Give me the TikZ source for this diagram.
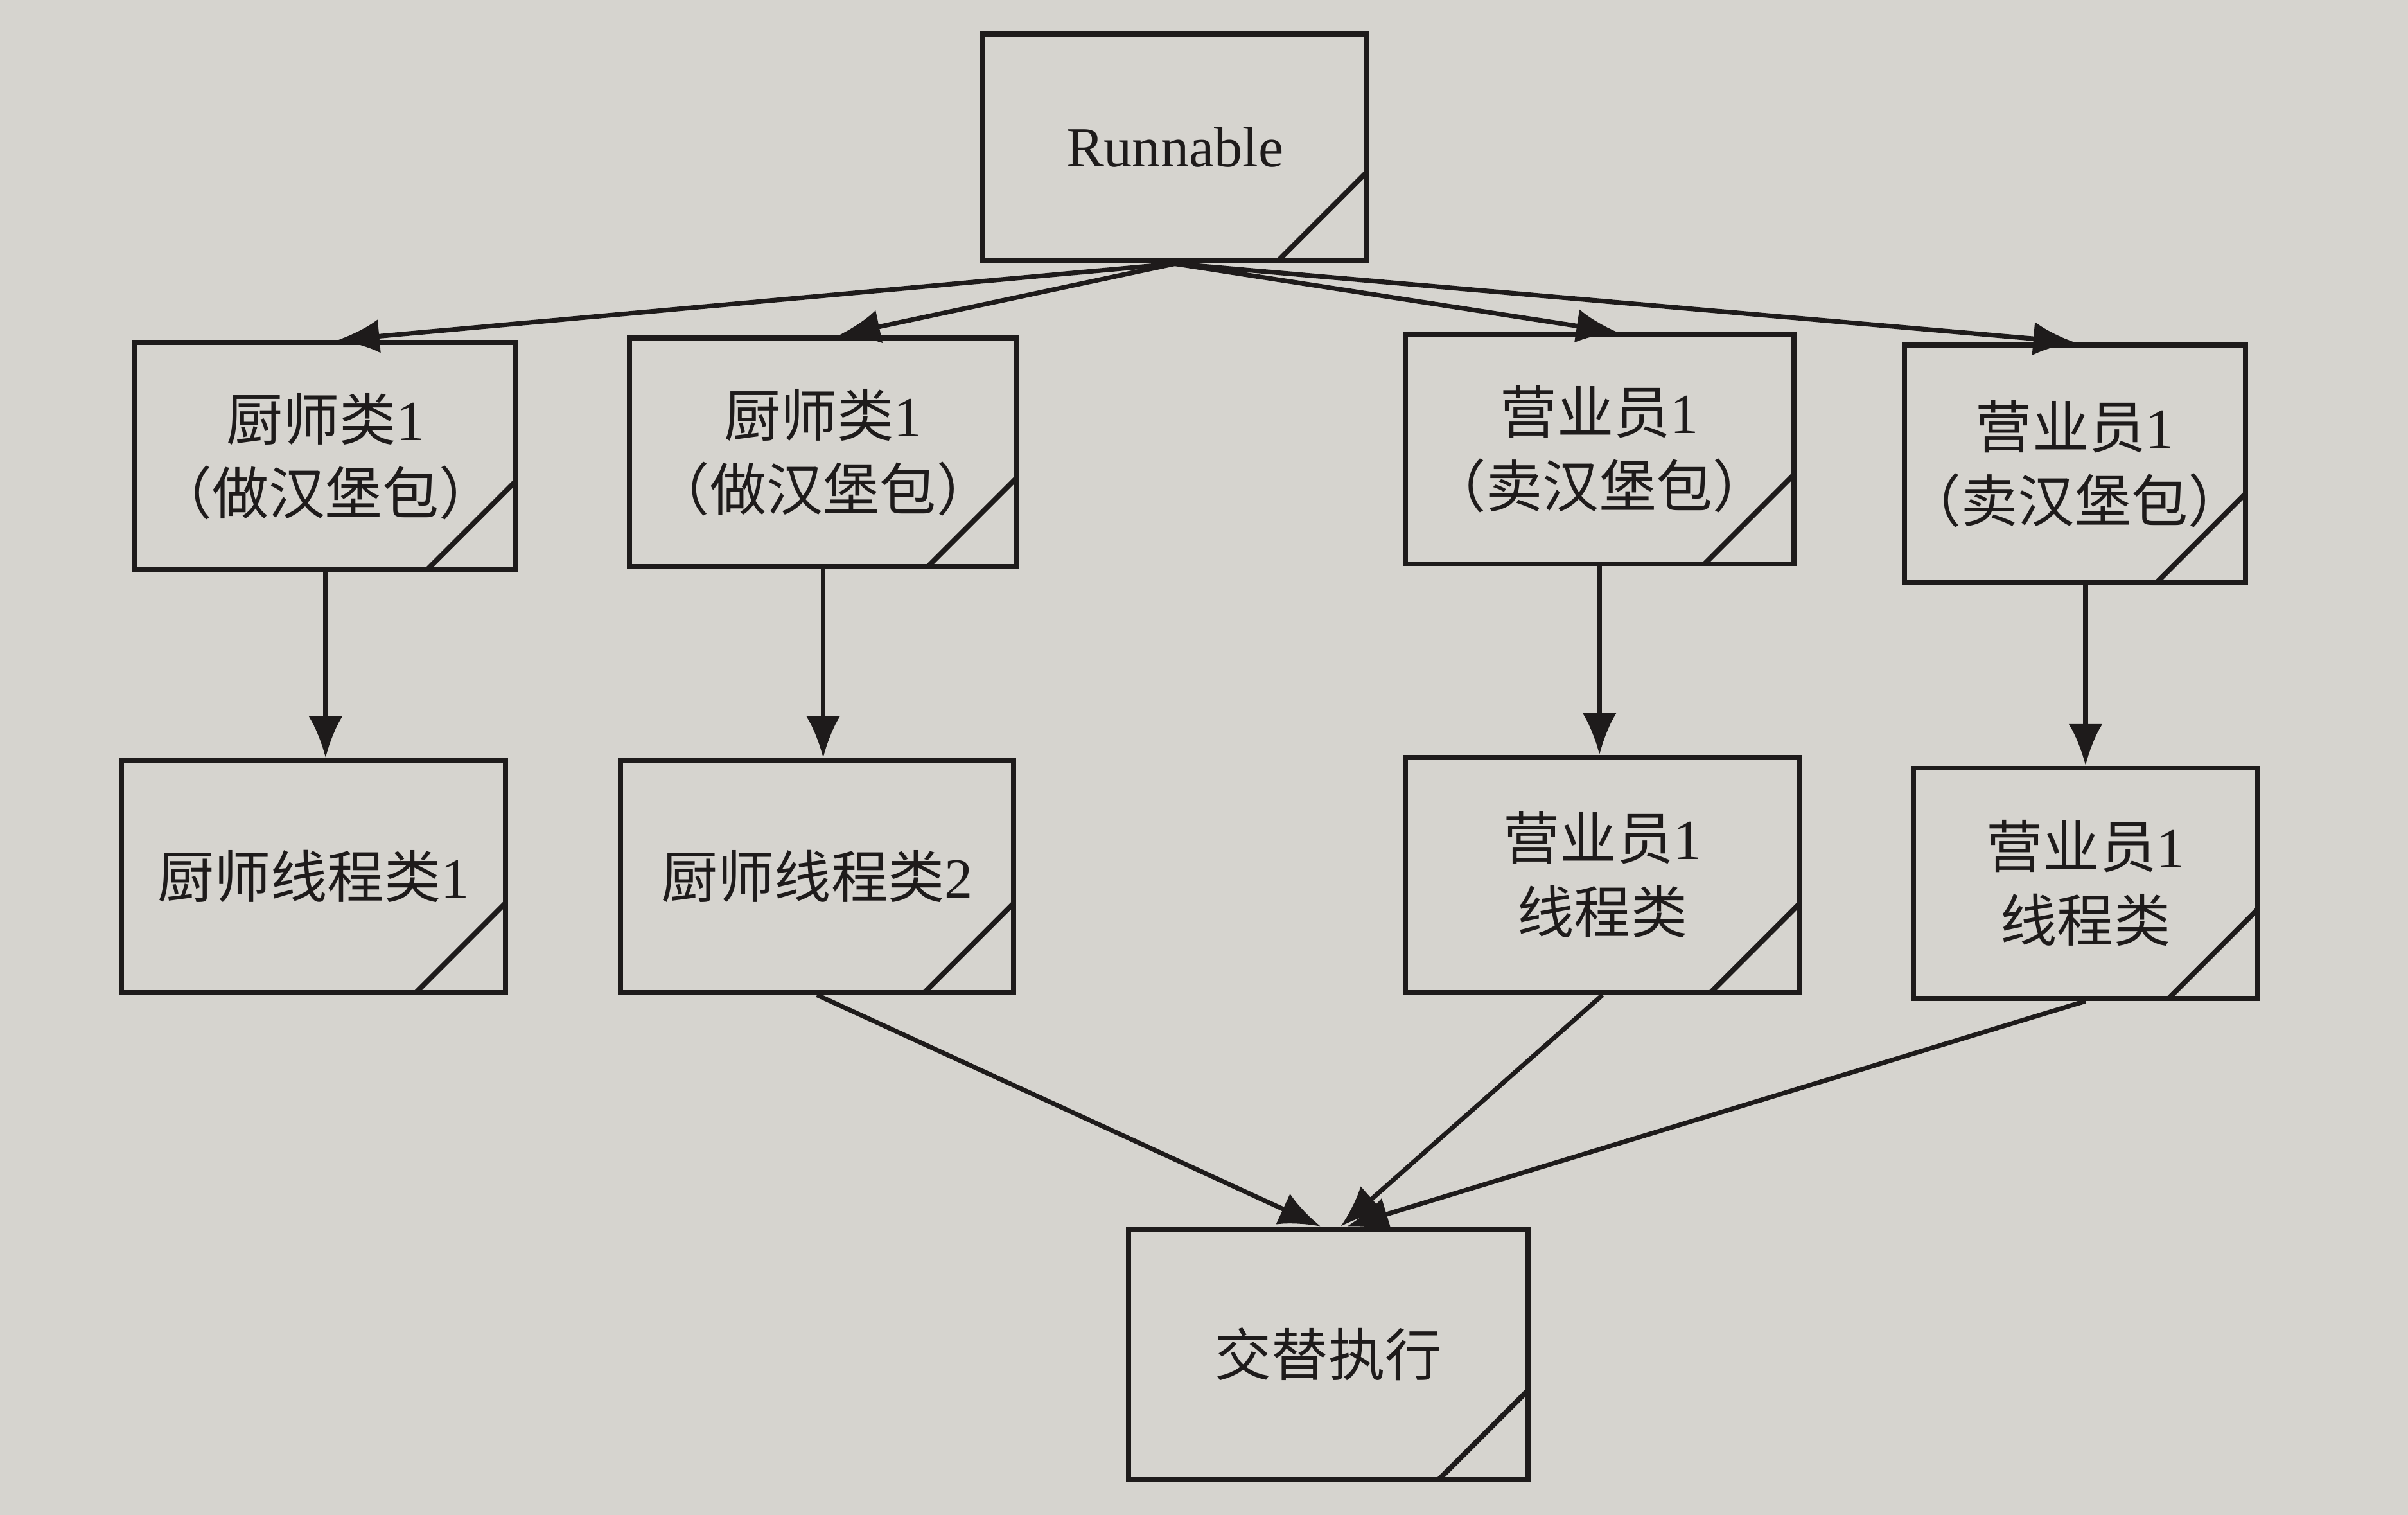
\documentclass[tikz,border=0pt]{standalone}
\usepackage{fontspec}
\setmainfont{Liberation Serif}
\newfontfamily\cjk{Noto Sans CJK SC}
\usetikzlibrary{arrows.meta}
\definecolor{paper}{RGB}{214,212,207}
\definecolor{ink}{RGB}{30,27,27}

\begin{document}
\begin{tikzpicture}[box/.style={draw=ink, line width=0.95pt, minimum width=2.5cm, minimum height=1.5cm,
					inner sep=0pt, align=center, text=ink, font=\fontsize{10.5pt}{13.7pt}\selectfont,
					path picture={\draw[ink, line width=0.95pt]
						([xshift=-0.58cm]path picture bounding box.south east) --
						([yshift=0.58cm]path picture bounding box.south east);}},
				arr/.style={draw=ink, line width=0.85pt, -{Latex[length=2.7mm,width=2.2mm]}}]
				\fill[paper] (0,0) rectangle (15.68,9.86);
				\useasboundingbox (0,0) rectangle (15.68,9.86);
				% top
				\node[box, minimum height=1.48cm] (run) at (7.65,8.90) {Runnable};
				% classes
				\node[box, minimum width=2.48cm, minimum height=1.48cm] (cook1) at (2.12,6.89) {{\cjk 厨师类}1\\{\cjk （做汉堡包）}};
				\node[box, minimum width=2.52cm, minimum height=1.49cm] (cook2) at (5.36,6.915) {{\cjk 厨师类}1\\{\cjk （做汉堡包）}};
				\node[box, minimum width=2.53cm, minimum height=1.49cm] (sell1) at (10.415,6.935) {{\cjk 营业员}1\\{\cjk （卖汉堡包）}};
				\node[box, minimum width=2.22cm, minimum height=1.55cm] (sell2) at (13.51,6.84) {{\cjk 营业员}1\\{\cjk （卖汉堡包）}};
				% threads
				\node[box, minimum width=2.50cm, minimum height=1.51cm] (cookt1) at (2.04,4.155) {{\cjk 厨师线程类}1};
				\node[box, minimum width=2.56cm, minimum height=1.51cm] (cookt2) at (5.32,4.155) {{\cjk 厨师线程类}2};
				\node[box, minimum width=2.57cm, minimum height=1.53cm] (sellt1) at (10.435,4.165) {{\cjk 营业员}1\\{\cjk 线程类}};
				\node[box, minimum width=2.24cm, minimum height=1.50cm] (sellt2) at (13.58,4.11) {{\cjk 营业员}1\\{\cjk 线程类}};
				% result
				\node[box, minimum width=2.60cm, minimum height=1.63cm] (alt) at (8.65,1.045) {\cjk 交替执行};
				
				\draw[arr] (run.south) -- ([xshift=0.08cm]cook1.north);
				\draw[arr] (run.south) -- ([xshift=0.1cm]cook2.north);
				\draw[arr] (run.south) -- ([xshift=0.12cm]sell1.north);
				\draw[arr] (run.south) -- (sell2.north);
				
				\draw[arr] (cook1.south) -- (cook1.south |- cookt1.north);
				\draw[arr] (cook2.south) -- (cook2.south |- cookt2.north);
				\draw[arr] (sell1.south) -- (sell1.south |- sellt1.north);
				\draw[arr] (sellt2.north |- sell2.south) -- (sellt2.north);
				
				\draw[arr] (cookt2.south) -- ([xshift=-0.05cm]alt.north);
				\draw[arr] (sellt1.south) -- ([xshift=0.08cm]alt.north);
				\draw[arr] (sellt2.south) -- ([xshift=0.12cm]alt.north);
			\end{tikzpicture}
\end{document}
